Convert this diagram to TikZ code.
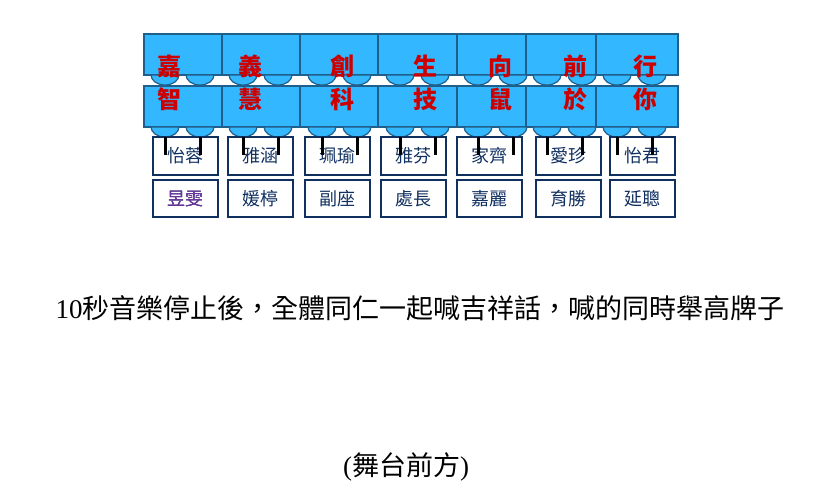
\documentclass[tikz,border=0pt]{standalone}
\usepackage{fontspec}
\setmainfont{Liberation Serif}
\newfontfamily\cjk{Noto Sans CJK TC}
\definecolor{boardfill}{RGB}{51,183,255}
\definecolor{boardline}{RGB}{31,95,139}
\definecolor{signred}{RGB}{204,0,0}
\definecolor{namenavy}{RGB}{16,48,96}
\definecolor{namepurple}{RGB}{112,48,160}

\begin{document}
\begin{tikzpicture}[x=1pt, y=-1pt,
    board/.style={draw=boardline, fill=boardfill, line width=1.5pt},
    knob/.style={draw=boardline, fill=boardfill, line width=1.2pt},
    signchar/.style={text=signred, inner sep=0pt, font=\cjk\bfseries\fontsize{24}{24}\selectfont},
    namebox/.style={draw=namenavy, line width=1.5pt, minimum width=65pt, inner sep=0pt,
      text=namenavy, font=\cjk\fontsize{18}{18}\selectfont},
    leg/.style={line width=3pt, black},
    caption/.style={inner sep=0pt, font=\fontsize{27}{27}\selectfont}]
  \useasboundingbox (0,0) rectangle (821,495);
  % boards, two rows
  \foreach \xa/\xb in {144/222, 222/300, 300/378, 378/457, 457/526, 526/596, 596/678}{
    \draw[board] (\xa,34) rectangle (\xb,75);
    \draw[board] (\xa,86) rectangle (\xb,127);
  }
  % half round knobs under each board
  \foreach \lx in {165,200,243,278,322,357,400,435,478,513,547,582,617,652}{
    \draw[knob] (\lx-14,75) arc[start angle=180, end angle=0, x radius=14, y radius=10] -- cycle;
    \draw[knob] (\lx-14,127) arc[start angle=180, end angle=0, x radius=14, y radius=10] -- cycle;
  }
  % name cards
  \foreach \nx/\na/\nb [count=\i] in {153/怡蓉/昱雯, 228/雅涵/媛楟, 305/珮瑜/副座, 381/雅芬/處長,
      457/家齊/嘉麗, 536/愛珍/育勝, 610/怡君/延聰}{
    \node[namebox, minimum height=38pt] (name-\i) at (\nx+32.5,156) {\na};
    \node[namebox, minimum height=37pt] (sub-\i) at (\nx+32.5,198.5) {\nb};
  }
  \node[namebox, minimum height=37pt, text=namepurple] at (sub-1) {昱雯};
  % legs
  \foreach \lx in {165,200,243,278,322,357,400,435,478,513,547,582,617,652}
    \draw[leg] (\lx,137) -- (\lx,155);
  % sign characters
  \foreach \cx/\ca/\cb [count=\i] in {169/嘉/智, 250/義/慧, 342/創/科, 425/生/技,
      500/向/鼠, 575/前/於, 645/行/你}{
    \node[signchar] (up-\i) at (\cx,66) {\ca};
    \node[signchar] (low-\i) at (\cx,99) {\cb};
  }
  \node[caption] (note) at (420,308) {10{\cjk 秒音樂停止後，全體同仁一起喊吉祥話，喊的同時舉高牌子}};
  \node[caption] (stage) at (406,467) {({\cjk 舞台前方})};
\end{tikzpicture}
\end{document}
